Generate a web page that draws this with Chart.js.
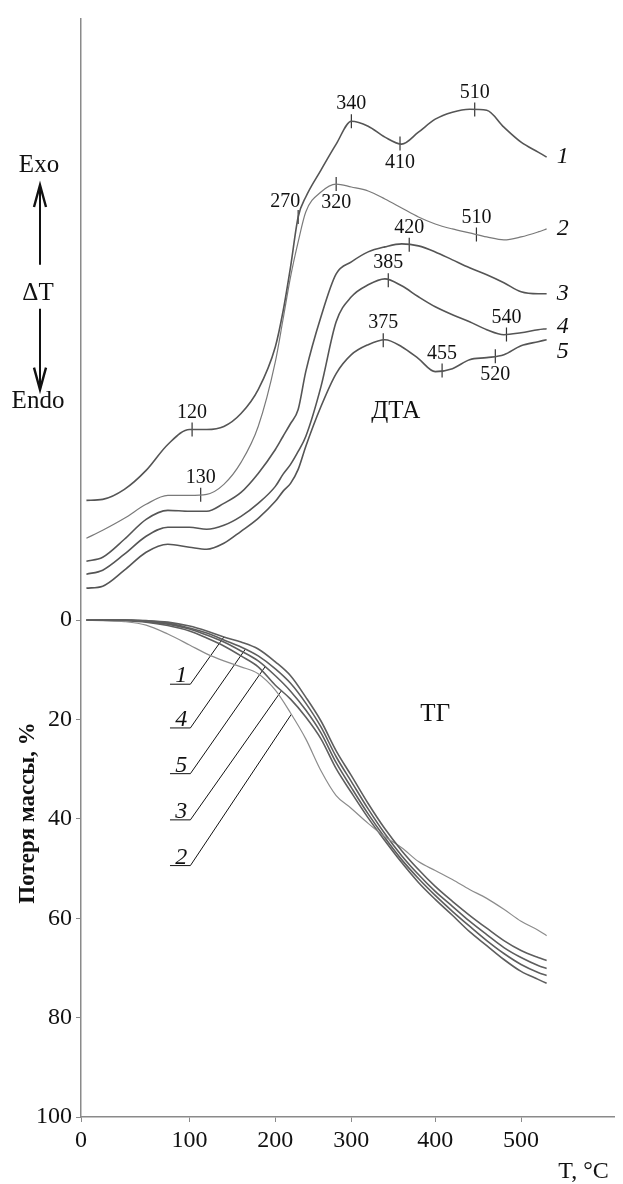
<!DOCTYPE html>
<html>
<head>
<meta charset="utf-8">
<title>ДТА / ТГ</title>
<script src="https://cdn.jsdelivr.net/npm/chart.js@4.4.1/dist/chart.umd.min.js"></script>
<style>
  html, body { margin: 0; padding: 0; background: #fff; }
  #wrap { width: 623px; height: 1184px; position: relative; }
</style>
</head>
<body>
<div id="wrap"><canvas id="thermoChart"></canvas></div>
<script>
// ДТА: температура, °C и сигнал ΔT (усл. ед.)
const tempsDTA = [5, 20, 40, 60, 80, 100, 120, 140, 160, 180, 200, 210, 220, 230, 240, 260, 280, 300, 320, 340, 360, 380, 400, 420, 440, 460, 480, 500, 520, 530];
const dta1 = [61.8, 61.9, 62.9, 64.8, 67.4, 68.9, 68.9, 69.2, 70.5, 72.9, 77.2, 80.7, 85.2, 90.2, 92.2, 94.9, 97.5, 99.8, 99.3, 98.2, 97.5, 98.7, 100.0, 100.7, 101.0, 100.9, 99.2, 97.7, 96.7, 96.2];
const dta2 = [58.0, 58.8, 60.0, 61.4, 62.3, 62.3, 62.4, 63.4, 65.6, 69.2, 75.7, 79.9, 84.2, 87.7, 90.7, 92.7, 93.5, 93.2, 92.8, 92.0, 91.1, 90.2, 89.5, 89.0, 88.6, 88.2, 87.9, 88.2, 88.7, 89.0];
const dta3 = [55.7, 56.1, 57.9, 59.9, 60.8, 60.7, 60.7, 61.5, 62.6, 64.5, 66.9, 68.2, 69.5, 70.9, 74.7, 80.2, 84.5, 85.7, 86.7, 87.2, 87.5, 87.3, 86.7, 85.9, 85.1, 84.4, 83.6, 82.7, 82.5, 82.5];
const dta4 = [54.4, 54.8, 56.4, 58.2, 59.1, 59.1, 58.9, 59.3, 60.2, 61.5, 63.2, 64.4, 65.4, 66.7, 68.2, 73.2, 79.7, 82.2, 83.4, 84.0, 83.3, 82.2, 81.2, 80.4, 79.7, 78.9, 78.4, 78.6, 78.9, 79.0];
const dta5 = [53.0, 53.2, 54.8, 56.6, 57.4, 57.1, 56.9, 57.5, 58.7, 60.0, 61.7, 62.7, 63.5, 64.9, 67.2, 71.2, 74.5, 76.4, 77.4, 77.9, 77.2, 76.0, 74.7, 75.0, 75.9, 76.1, 76.4, 77.3, 77.7, 77.9];

// ТГ: потеря массы, %
const tempsTG = [5, 20, 40, 60, 80, 100, 120, 140, 160, 180, 200, 220, 240, 260, 280, 300, 320, 340, 360, 380, 400, 420, 440, 460, 480, 500, 520, 530];
const tg1 = [0, 0, 0, 0.1, 0.4, 1.2, 2.2, 3.4, 4.4, 5.8, 8.4, 11.2, 15.5, 20.3, 26.3, 31.3, 36.9, 42.0, 46.4, 50.2, 53.6, 56.6, 59.4, 62.0, 64.5, 66.5, 67.9, 68.5];
const tg2 = [0, 0.1, 0.3, 1.0, 2.8, 5.0, 6.8, 8.2, 9.4, 10.8, 14.1, 18.7, 23.9, 30.3, 35.3, 37.9, 40.9, 43.6, 45.8, 48.6, 50.4, 52.2, 54.2, 56.0, 58.2, 60.6, 62.4, 63.5];
const tg3 = [0, 0, 0.1, 0.4, 1.1, 2.2, 3.6, 5.2, 7.2, 9.4, 13.1, 15.9, 19.5, 23.9, 29.9, 34.7, 39.8, 44.4, 48.8, 52.8, 56.2, 59.4, 62.7, 65.5, 68.3, 70.7, 72.3, 73.1];
const tg4 = [0, 0, 0, 0.2, 0.6, 1.6, 2.6, 4.0, 5.4, 7.2, 9.8, 12.7, 16.7, 21.5, 27.5, 32.5, 38.0, 43.0, 47.4, 51.2, 54.6, 57.6, 60.6, 63.3, 65.9, 67.9, 69.5, 70.1];
const tg5 = [0, 0, 0, 0.3, 0.8, 1.8, 3.0, 4.4, 6.2, 8.2, 11.2, 14.3, 18.1, 22.7, 28.7, 33.7, 39.0, 43.8, 48.2, 52.0, 55.4, 58.6, 61.6, 64.5, 67.1, 69.3, 70.9, 71.5];

const curveNames = ['1', '2', '3', '4', '5'];
const xTicks = [0, 100, 200, 300, 400, 500];
const yTicks = [0, 20, 40, 60, 80, 100];

// отметки температур на кривых ДТА
const dtaMarks = [
  { curve: 0, t: 103, text: '120', place: 'above' },
  { curve: 0, t: 230, text: '270', place: 'left' },
  { curve: 0, t: 300, text: '340', place: 'above' },
  { curve: 0, t: 358, text: '410', place: 'below' },
  { curve: 0, t: 446, text: '510', place: 'above' },
  { curve: 1, t: 113, text: '130', place: 'above' },
  { curve: 1, t: 280, text: '320', place: 'below' },
  { curve: 1, t: 448, text: '510', place: 'above' },
  { curve: 2, t: 369, text: '420', place: 'above' },
  { curve: 3, t: 344, text: '385', place: 'above' },
  { curve: 3, t: 483, text: '540', place: 'above' },
  { curve: 4, t: 338, text: '375', place: 'above' },
  { curve: 4, t: 408, text: '455', place: 'above' },
  { curve: 4, t: 470, text: '520', place: 'below' }
];

// выноски к кривым ТГ
const tgLeaders = [
  { curve: 0, text: '1', from: 82, to: 101, level: 12.9, tip: 140 },
  { curve: 3, text: '4', from: 82, to: 101, level: 21.7, tip: 165 },
  { curve: 4, text: '5', from: 82, to: 101, level: 30.9, tip: 188 },
  { curve: 2, text: '3', from: 82, to: 101, level: 40.2, tip: 208 },
  { curve: 1, text: '2', from: 82, to: 101, level: 49.4, tip: 221 }
];

const dtaSeries = [dta1, dta2, dta3, dta4, dta5];
const tgSeries = [tg1, tg2, tg3, tg4, tg5];

const SERIF = '"Liberation Serif", "Times New Roman", serif';
const AXIS = '#8a8a8a';

function valueAt(ts, vs, t) {
  for (let i = 1; i < ts.length; i++) {
    if (t <= ts[i]) {
      const f = (t - ts[i - 1]) / (ts[i] - ts[i - 1]);
      return vs[i - 1] + f * (vs[i] - vs[i - 1]);
    }
  }
  return vs[vs.length - 1];
}

// шкала температур на исходном рисунке неравномерная
const axisKnots = [[0, 0], [100, 0.2033], [200, 0.3641], [300, 0.5065], [400, 0.6636], [500, 0.8244], [610, 1]];

class WarpedScale extends Chart.LinearScale {
  warp(v) {
    const k = axisKnots;
    let i = 1;
    while (i < k.length - 1 && v > k[i][0]) i++;
    const a = k[i - 1], b = k[i];
    return a[1] + (v - a[0]) / (b[0] - a[0]) * (b[1] - a[1]);
  }
  getPixelForValue(value) {
    return value === null ? NaN : this.getPixelForDecimal(this.warp(value));
  }
  getValueForPixel(pixel) {
    const d = this.getDecimalForPixel(pixel);
    const k = axisKnots;
    let i = 1;
    while (i < k.length - 1 && d > k[i][1]) i++;
    const a = k[i - 1], b = k[i];
    return a[0] + (d - a[1]) / (b[1] - a[1]) * (b[0] - a[0]);
  }
}
WarpedScale.id = 'warped';
WarpedScale.defaults = Chart.LinearScale.defaults;
Chart.register(WarpedScale);

const datasets = [];

dtaSeries.forEach((vals, i) => {
  datasets.push({
    label: 'ДТА ' + curveNames[i],
    data: tempsDTA.map((t, j) => ({ x: t, y: vals[j] })),
    yAxisID: 'yd',
    borderColor: i === 1 ? '#7a7a7a' : '#555',
    borderWidth: i === 1 ? 1.2 : 1.6,
    pointRadius: 0,
    cubicInterpolationMode: 'monotone',
    fill: false
  });
});

tgSeries.forEach((vals, i) => {
  datasets.push({
    label: 'ТГ ' + curveNames[i],
    data: tempsTG.map((t, j) => ({ x: t, y: vals[j] })),
    yAxisID: 'y',
    borderColor: i === 1 ? '#8c8c8c' : '#5e5e5e',
    borderWidth: i === 1 ? 1.2 : 1.6,
    pointRadius: 0,
    cubicInterpolationMode: 'monotone',
    fill: false
  });
});

tgLeaders.forEach(l => {
  const tipVal = valueAt(tempsTG, tgSeries[l.curve], l.tip);
  datasets.push({
    label: 'выноска ' + l.text,
    data: [{ x: l.from, y: l.level }, { x: l.to, y: l.level }, { x: l.tip, y: tipVal }],
    yAxisID: 'y',
    borderColor: '#111',
    borderWidth: 1,
    pointRadius: 0,
    tension: 0,
    fill: false
  });
});

datasets.push({
  label: 'отметки',
  type: 'scatter',
  data: dtaMarks.map(m => ({ x: m.t, y: valueAt(tempsDTA, dtaSeries[m.curve], m.t) })),
  yAxisID: 'yd',
  pointStyle: 'line',
  rotation: 90,
  pointRadius: 7,
  borderColor: '#333',
  borderWidth: 1.2,
  showLine: false
});

const annotations = {
  id: 'annotations',
  afterDatasetsDraw(chart) {
    const { ctx, chartArea, scales } = chart;
    const x = scales.x, y = scales.y, yd = scales.yd;
    ctx.save();
    ctx.fillStyle = '#111';
    ctx.strokeStyle = '#111';
    ctx.textAlign = 'center';
    ctx.textBaseline = 'middle';

    // подписи отметок ДТА
    ctx.font = '20px ' + SERIF;
    dtaMarks.forEach(m => {
      const px = x.getPixelForValue(m.t);
      const py = yd.getPixelForValue(valueAt(tempsDTA, dtaSeries[m.curve], m.t));
      let dx = 0, dy = -17;
      if (m.place === 'below') dy = 19;
      if (m.place === 'left') { dx = -13; dy = -15; }
      ctx.fillText(m.text, px + dx, py + dy);
    });

    // номера кривых ДТА
    ctx.font = 'italic 24px ' + SERIF;
    ctx.textAlign = 'left';
    dtaSeries.forEach((vals, i) => {
      const px = x.getPixelForValue(tempsDTA[tempsDTA.length - 1]);
      const py = yd.getPixelForValue(vals[vals.length - 1]);
      const nudge = i === 4 ? 12 : (i === 3 ? -2 : 0);
      ctx.fillText(curveNames[i], px + 10, py + nudge);
    });

    // номера кривых ТГ на выносках
    ctx.textAlign = 'center';
    ctx.textBaseline = 'alphabetic';
    tgLeaders.forEach(l => {
      const px = (x.getPixelForValue(l.from) + x.getPixelForValue(l.to)) / 2;
      const py = y.getPixelForValue(l.level);
      ctx.fillText(l.text, px + 1, py - 2);
    });

    // названия блоков
    ctx.textBaseline = 'middle';
    ctx.font = '25px ' + SERIF;
    ctx.fillText('ДТА', x.getPixelForValue(353), yd.getPixelForValue(70.7));
    ctx.fillText('ТГ', x.getPixelForValue(400), y.getPixelForValue(18.9));

    // Exo / ΔT / Endo со стрелками
    const ax = chartArea.left - 41;
    ctx.fillText('Exo', ax - 1, yd.getPixelForValue(95.4));
    ctx.fillText('ΔT', ax - 2, yd.getPixelForValue(82.5));
    ctx.fillText('Endo', ax - 2, yd.getPixelForValue(71.7));
    ctx.lineWidth = 2;
    const upTop = yd.getPixelForValue(93.4), upBot = yd.getPixelForValue(85.4);
    const dnTop = yd.getPixelForValue(81.0), dnBot = yd.getPixelForValue(72.9);
    ctx.beginPath();
    ctx.moveTo(ax, upBot); ctx.lineTo(ax, upTop + 2);
    ctx.moveTo(ax, dnTop); ctx.lineTo(ax, dnBot - 2);
    ctx.stroke();
    ctx.lineWidth = 2.4;
    ctx.beginPath();
    ctx.moveTo(ax - 6, upTop + 22); ctx.lineTo(ax, upTop); ctx.lineTo(ax + 6, upTop + 22);
    ctx.moveTo(ax - 6, dnBot - 22); ctx.lineTo(ax, dnBot); ctx.lineTo(ax + 6, dnBot - 22);
    ctx.stroke();

    // подпись оси Y
    ctx.save();
    ctx.translate(chartArea.left - 53, y.getPixelForValue(38.8));
    ctx.rotate(-Math.PI / 2);
    ctx.font = 'bold 23px ' + SERIF;
    ctx.fillText('Потеря массы, %', 0, 0);
    ctx.restore();

    // подпись оси X
    ctx.font = '24px ' + SERIF;
    ctx.textAlign = 'right';
    ctx.fillText('T, °C', chartArea.right - 6, chart.height - 12);
    ctx.restore();
  }
};

const ctx = document.getElementById('thermoChart').getContext('2d');
const thermoChart = new Chart(ctx, {
  type: 'line',
  data: { datasets: datasets },
  options: {
    responsive: true,
    maintainAspectRatio: false,
    animation: false,
    events: [],
    layout: { padding: { top: 16, right: 0, bottom: 0, left: 0 } },
    plugins: { legend: { display: false }, tooltip: { enabled: false } },
    scales: {
      x: {
        type: 'warped',
        min: 0,
        max: 610,
        afterBuildTicks: s => { s.ticks = xTicks.map(v => ({ value: v })); },
        afterFit: s => { s.height = 67; },
        border: { color: AXIS, width: 1.5 },
        grid: { drawOnChartArea: false, tickLength: 5, color: AXIS },
        ticks: {
          autoSkip: false,
          maxRotation: 0,
          padding: 4,
          color: '#111',
          font: { family: SERIF, size: 24 },
          callback: v => String(v)
        }
      },
      y: {
        type: 'linear',
        reverse: true,
        min: -121.1,
        max: 100,
        afterBuildTicks: s => { s.ticks = yTicks.map(v => ({ value: v })); },
        afterFit: s => { s.width = 81; },
        border: { color: AXIS, width: 1.5 },
        grid: { drawOnChartArea: false, tickLength: 5, color: AXIS },
        ticks: {
          padding: 4,
          color: '#111',
          font: { family: SERIF, size: 24 },
          callback: v => String(v)
        }
      },
      yd: {
        type: 'linear',
        display: false,
        min: 0,
        max: 110.1
      }
    }
  },
  plugins: [annotations]
});
</script>
</body>
</html>
